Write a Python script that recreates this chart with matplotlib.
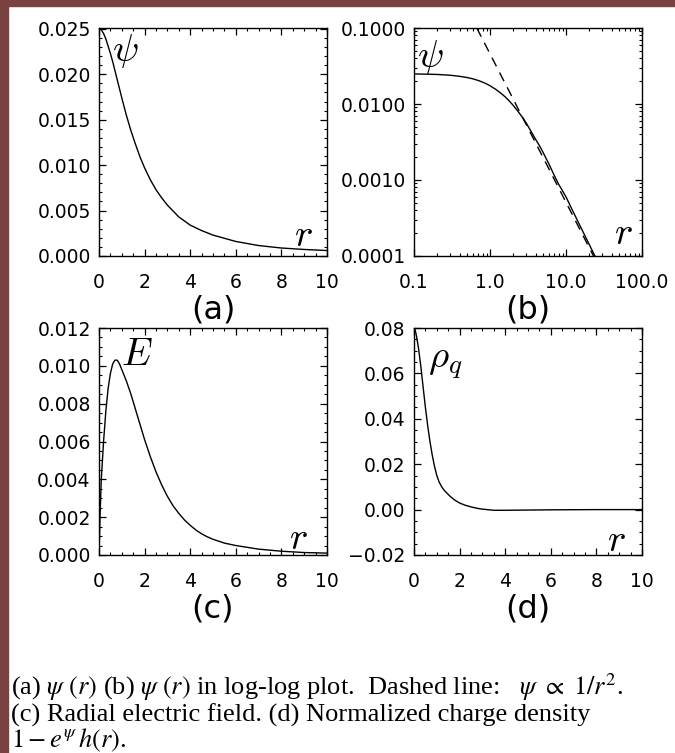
import matplotlib
matplotlib.use('Agg')
import matplotlib.pyplot as plt
from matplotlib.patches import Rectangle
from matplotlib.ticker import MultipleLocator, LogLocator, NullFormatter
import numpy as np

# values
r_psi = [0.0, 0.1, 0.2, 0.3, 0.4, 0.5, 0.6, 0.7, 0.8, 0.9, 1.0, 1.2, 1.4, 1.6,
         1.8, 2.0, 2.25, 2.5, 2.75, 3.0, 3.5, 4.0, 4.5, 5.0, 6.0, 7.0, 8.0,
         9.0, 10.0, 12.0, 15.0, 20.0, 25.0]
psi = [0.0251, 0.0249, 0.0245, 0.0239, 0.0231, 0.0223, 0.0214, 0.0204, 0.0194,
       0.0184, 0.0174, 0.0155, 0.0138, 0.0123, 0.0109, 0.0097, 0.0084, 0.0073,
       0.0064, 0.0056, 0.0043, 0.0034, 0.0028, 0.0023, 0.0016, 0.00115,
       0.00088, 0.00072, 0.0006, 0.00041, 0.00026, 0.000145, 0.000092]

r_dash = [0.67, 23.0]
psi_dash = [0.1, 0.0001]

r_E = [0.0, 0.05, 0.1, 0.2, 0.3, 0.4, 0.5, 0.6, 0.7, 0.8, 0.9, 1.0, 1.2, 1.4,
       1.6, 1.8, 2.0, 2.25, 2.5, 2.75, 3.0, 3.25, 3.5, 3.75, 4.0, 4.25, 4.5,
       4.75, 5.0, 5.5, 6.0, 7.0, 8.0, 9.0, 10.0]
E = [0.0, 0.0022, 0.0040, 0.0060, 0.0076, 0.0088, 0.0096, 0.0101, 0.0103,
     0.0103, 0.0101, 0.0098, 0.0092, 0.0085, 0.0077, 0.0069, 0.0061, 0.0052,
     0.0044, 0.0037, 0.0031, 0.0026, 0.0022, 0.00185, 0.00157, 0.00132,
     0.00112, 0.00096, 0.00083, 0.00063, 0.0005, 0.00031, 0.0002, 0.00013,
     0.0001]

r_rho = [0.0, 0.05, 0.1, 0.2, 0.3, 0.4, 0.5, 0.6, 0.7, 0.8, 0.9, 1.0, 1.1, 1.2,
         1.3, 1.4, 1.6, 1.8, 2.0, 2.25, 2.5, 2.75, 3.0, 3.5, 4.0, 5.0, 6.0,
         8.0, 10.0]
rho = [0.080, 0.079, 0.077, 0.071, 0.063, 0.054, 0.045, 0.037, 0.030, 0.024,
       0.019, 0.0150, 0.0122, 0.0103, 0.0088, 0.0077, 0.0057, 0.0041, 0.0029,
       0.0019, 0.0012, 0.0006, 0.0002, -0.0003, -0.0003, -0.0002, -0.0001,
       0.0, 0.0]

lin_xticks = [0, 2, 4, 6, 8, 10]
lin_xlabels = ['0', '2', '4', '6', '8', '10']
a_yticks = [0.000, 0.005, 0.010, 0.015, 0.020, 0.025]
a_ylabels = ['0.000', '0.005', '0.010', '0.015', '0.020', '0.025']
b_xticks = [0.1, 1.0, 10.0, 100.0]
b_xlabels = ['0.1', '1.0', '10.0', '100.0']
b_yticks = [0.0001, 0.001, 0.01, 0.1]
b_ylabels = ['0.0001', '0.0010', '0.0100', '0.1000']
c_yticks = [0.000, 0.002, 0.004, 0.006, 0.008, 0.010, 0.012]
c_ylabels = ['0.000', '0.002', '0.004', '0.006', '0.008', '0.010', '0.012']
d_yticks = [-0.02, 0.00, 0.02, 0.04, 0.06, 0.08]
d_ylabels = ['\u22120.02', '0.00', '0.02', '0.04', '0.06', '0.08']

plt.rcParams['font.family'] = 'DejaVu Sans'
plt.rcParams['axes.linewidth'] = 1.0
plt.rcParams['lines.linewidth'] = 1.0

fig = plt.figure(figsize=(6.75, 7.53), dpi=100)
brown = '#7a4141'
fig.patches.append(Rectangle((0, 0), 8 / 675, 1, transform=fig.transFigure,
                             color=brown, zorder=0))
fig.patches.append(Rectangle((0, 1 - 6 / 753), 1, 6 / 753,
                             transform=fig.transFigure, color=brown, zorder=0))

W, H = 675, 753


def make_ax(left, top, right, bottom):
    return fig.add_axes([left / W, 1 - bottom / H, (right - left) / W,
                         (bottom - top) / H])


def style(ax):
    ax.tick_params(which='both', direction='in', top=True, right=True,
                   labelsize=13.5, colors='black')
    ax.tick_params(which='major', length=5, width=0.9)
    ax.tick_params(which='minor', length=2.5, width=0.8)
    ax.tick_params(axis='x', pad=12)
    ax.tick_params(axis='y', pad=6)


math_kw = dict(fontsize=28, math_fontfamily='cm', ha='center', va='center')
lab_kw = dict(fontsize=23, labelpad=2)

ax_a = make_ax(99, 28, 327, 256)
ax_b = make_ax(414, 28, 642, 256)
ax_c = make_ax(99, 328, 327, 555)
ax_d = make_ax(414, 328, 642, 555)

# (a)
ax_a.plot(r_psi, psi, color='black')
ax_a.set_xlim(0, 10)
ax_a.set_ylim(0, 0.0251)
ax_a.set_xticks(lin_xticks, lin_xlabels)
ax_a.set_yticks(a_yticks, a_ylabels)
ax_a.xaxis.set_minor_locator(MultipleLocator(0.5))
ax_a.yaxis.set_minor_locator(MultipleLocator(0.001))
style(ax_a)
ax_a.text(0.114, 0.9, r'$\psi$', transform=ax_a.transAxes, **math_kw)
ax_a.text(0.895, 0.09, r'$r$', transform=ax_a.transAxes, **math_kw)
ax_a.set_xlabel('(a)', **lab_kw)

# (b)
r_pos = [v for v in r_psi if v > 0]
psi_pos = [p for v, p in zip(r_psi, psi) if v > 0]
ax_b.plot(r_pos, psi_pos, color='black')
ax_b.plot(r_dash, psi_dash, color='black', dashes=(7, 5))
ax_b.set_xscale('log')
ax_b.set_yscale('log')
ax_b.set_xlim(0.1, 100)
ax_b.set_ylim(0.0001, 0.1)
ax_b.set_xticks(b_xticks, b_xlabels)
ax_b.set_yticks(b_yticks, b_ylabels)
ax_b.xaxis.set_minor_locator(LogLocator(base=10, subs=np.arange(2, 10)))
ax_b.yaxis.set_minor_locator(LogLocator(base=10, subs=np.arange(2, 10)))
ax_b.xaxis.set_minor_formatter(NullFormatter())
ax_b.yaxis.set_minor_formatter(NullFormatter())
style(ax_b)
ax_b.text(0.07, 0.875, r'$\psi$', transform=ax_b.transAxes, **math_kw)
ax_b.text(0.917, 0.1, r'$r$', transform=ax_b.transAxes, **math_kw)
ax_b.set_xlabel('(b)', **lab_kw)

# (c)
ax_c.plot(r_E, E, color='black')
ax_c.set_xlim(0, 10)
ax_c.set_ylim(0, 0.012)
ax_c.set_xticks(lin_xticks, lin_xlabels)
ax_c.set_yticks(c_yticks, c_ylabels)
ax_c.xaxis.set_minor_locator(MultipleLocator(0.5))
ax_c.yaxis.set_minor_locator(MultipleLocator(0.0005))
style(ax_c)
ax_c.text(0.165, 0.885, r'$E$', transform=ax_c.transAxes, **math_kw)
ax_c.text(0.873, 0.075, r'$r$', transform=ax_c.transAxes, **math_kw)
ax_c.set_xlabel('(c)', **lab_kw)

# (d)
ax_d.plot(r_rho, rho, color='black')
ax_d.set_xlim(0, 10)
ax_d.set_ylim(-0.02, 0.08)
ax_d.set_xticks(lin_xticks, lin_xlabels)
ax_d.set_yticks(d_yticks, d_ylabels)
ax_d.xaxis.set_minor_locator(MultipleLocator(0.5))
ax_d.yaxis.set_minor_locator(MultipleLocator(0.005))
style(ax_d)
ax_d.text(0.135, 0.85, r'$\rho_q$', transform=ax_d.transAxes, **math_kw)
ax_d.text(0.89, 0.065, r'$r$', transform=ax_d.transAxes, **math_kw)
ax_d.set_xlabel('(d)', **lab_kw)

# caption
cap_kw = dict(fontsize=19, family='Liberation Serif', math_fontfamily='stix',
              ha='left', va='center')
fig.text(11 / W, 1 - 687 / H,
         r'(a) $\psi\ (r)$ (b) $\psi\ (r)$ in log-log plot.  Dashed line:   '
         r'$\psi\ \propto\ 1/r^2$.', **cap_kw)
fig.text(11 / W, 1 - 715 / H,
         '(c) Radial electric field. (d) Normalized charge density', **cap_kw)
fig.text(11 / W, 1 - 740 / H, r'$1 - e^{\psi}\,h(r)$.', **cap_kw)

fig.savefig('out.png', dpi=100)
